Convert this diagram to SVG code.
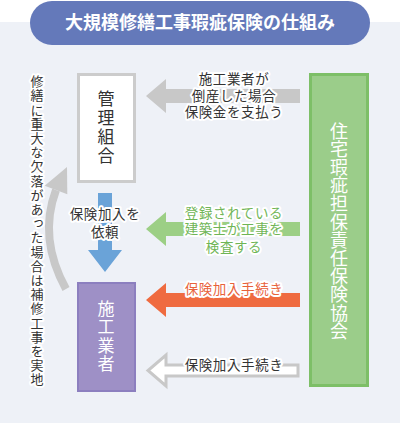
<svg xmlns="http://www.w3.org/2000/svg" width="400" height="423" viewBox="0 0 400 423">
<style>
text{font-family:"Noto Sans CJK JP","Noto Sans",sans-serif;}
.halo{paint-order:stroke;stroke:#fff;stroke-width:4;stroke-linejoin:round;}
.lbl{font-size:13.5px;text-anchor:middle;letter-spacing:0.6px;}
.vt{writing-mode:vertical-rl;text-anchor:middle;}
</style>
<rect x="0" y="0" width="400" height="423" fill="#eef1f7"/>
<rect x="0" y="0" width="400" height="22" fill="#ffffff"/>
<g id="title">
<rect x="30" y="1" width="340" height="44" rx="22" fill="#6479ba"/>
<text x="200" y="29" font-size="18" font-weight="bold" fill="#fff" text-anchor="middle">大規模修繕工事瑕疵保険の仕組み</text>
</g>
<g id="connectors">
<path d="M66,289 Q38,238 56,190" fill="none" stroke="#c8c8c8" stroke-width="8"/>
<polygon points="67,167 44.7,185.8 67.3,194.2" fill="#c8c8c8"/>
<polygon points="98,193 112,193 112,250 122,250 105,272 88,250 98,250" fill="#6aa3d8"/>
<polygon points="300,89 300,103 166,103 166,113 146,96 166,79 166,89" fill="#c8c8c8"/>
<polygon points="300,222 300,236 166,236 166,246 146,229 166,212 166,222" fill="#9ccf85"/>
<polygon points="300,293 300,307 166,307 166,317 146,300 166,283 166,293" fill="#ef6b40"/>
<polygon points="298,365 298,376 166,376 166,386 148,370.5 166,355 166,365" fill="#fff" stroke="#c8c8c8" stroke-width="3"/>
</g>
<g id="kanri">
<rect x="78.5" y="74.5" width="56" height="107" fill="#fff" stroke="#cccccc" stroke-width="3"/>
<text class="vt" x="106" y="128" font-size="17" fill="#333" letter-spacing="2">管理組合</text>
</g>
<g id="sekou">
<rect x="78" y="283" width="57" height="108" fill="#9e90c6" stroke="#8c7fbf" stroke-width="2"/>
<text class="vt" x="106" y="337" font-size="17" fill="#fff" letter-spacing="1.5">施工業者</text>
</g>
<g id="kyokai">
<rect x="310.5" y="74.5" width="57" height="311" fill="#9bcd8a" stroke="#7dbf67" stroke-width="3"/>
<text class="vt" x="339" y="231" font-size="18" fill="#fff" letter-spacing="0.2">住宅瑕疵担保責任保険協会</text>
</g>
<g id="labels">
<text class="vt halo" x="37" y="231" font-size="13" fill="#333" letter-spacing="1.2">修繕に重大な欠落があった場合は補修工事を実地</text>
<text class="lbl halo" x="105" y="219" fill="#333">保険加入を</text>
<text class="lbl halo" x="105" y="237" fill="#333">依頼</text>
<text class="lbl halo" x="234" y="84" fill="#333">施工業者が</text>
<text class="lbl halo" x="234" y="101" fill="#333">倒産した場合</text>
<text class="lbl halo" x="234" y="117" fill="#333">保険金を支払う</text>
<text class="lbl halo" x="234" y="218" fill="#6fb556">登録されている</text>
<text class="lbl halo" x="234" y="234" fill="#6fb556">建築士が工事を</text>
<text class="lbl halo" x="234" y="252" fill="#6fb556">検査する</text>
<text class="lbl halo" x="234" y="294" fill="#e8623a">保険加入手続き</text>
<text class="lbl halo" x="234" y="370" fill="#333">保険加入手続き</text>
</g>
</svg>
